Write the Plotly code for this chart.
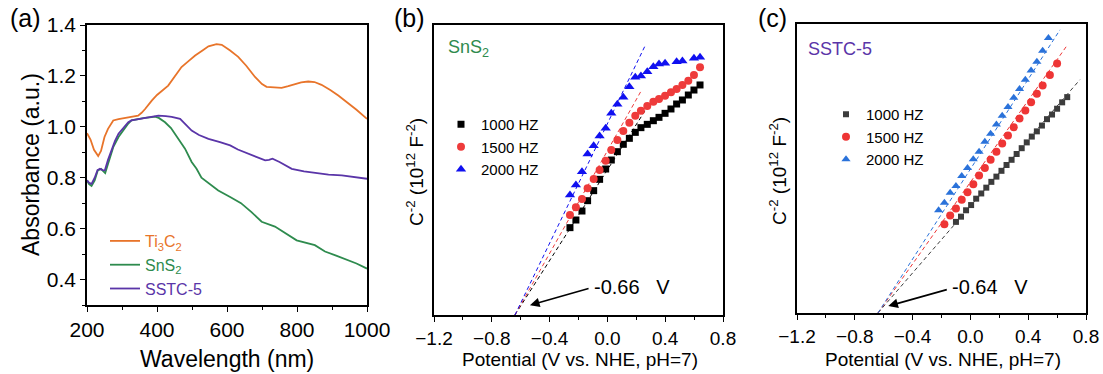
import plotly.graph_objects as go

FONT = "Arial, Liberation Sans, sans-serif"
W, H = 1103, 374

# ---------------- Panel (a): UV-vis absorbance ----------------
ti3c2_wl = [200, 210, 220, 232, 240, 250, 260, 275, 290, 310, 330, 346, 356, 366, 385, 400, 432, 450, 470, 490,
            509, 530, 547, 570, 585, 609, 632, 655, 680, 700, 713, 735, 756, 775, 794, 812, 832, 850, 870, 895,
            918, 945, 970, 1000]
ti3c2_abs = [0.975, 0.95, 0.91, 0.885, 0.905, 0.96, 0.992, 1.025, 1.03, 1.035, 1.038, 1.044, 1.055, 1.07, 1.103,
             1.125, 1.162, 1.195, 1.235, 1.258, 1.28, 1.30, 1.316, 1.325, 1.322, 1.30, 1.275, 1.24, 1.196, 1.168,
             1.157, 1.155, 1.153, 1.16, 1.169, 1.175, 1.178, 1.176, 1.165, 1.145, 1.123, 1.095, 1.067, 1.031]

sns2_wl = [200, 206, 213, 222, 231, 240, 247, 252, 258, 264, 275, 290, 305, 318, 327, 345, 365, 385, 394, 405,
           423, 440, 451, 465, 480, 499, 513, 527, 550, 575, 609, 640, 670, 699, 737, 770, 799, 851, 880, 910,
           937, 970, 1000]
sns2_abs = [0.79, 0.775, 0.768, 0.79, 0.829, 0.835, 0.825, 0.818, 0.845, 0.875, 0.92, 0.96, 0.99, 1.013, 1.025,
            1.03, 1.035, 1.038, 1.04, 1.035, 1.018, 0.995, 0.973, 0.945, 0.914, 0.862, 0.835, 0.80, 0.775, 0.75,
            0.724, 0.70, 0.665, 0.627, 0.608, 0.58, 0.554, 0.535, 0.51, 0.495, 0.482, 0.463, 0.443]

sstc_wl = [200, 206, 213, 222, 230, 237, 245, 251, 260, 270, 280, 290, 305, 318, 327, 346, 366, 385, 404, 425,
           442, 466, 480, 499, 520, 547, 580, 609, 631, 660, 690, 709, 720, 730, 750, 785, 820, 861, 890, 928,
           960, 1000]
sstc_abs = [0.79, 0.78, 0.776, 0.80, 0.83, 0.835, 0.83, 0.829, 0.87, 0.907, 0.945, 0.973, 0.995, 1.018, 1.025,
            1.03, 1.034, 1.04, 1.044, 1.042, 1.039, 1.031, 1.01, 0.985, 0.968, 0.953, 0.94, 0.927, 0.911, 0.895,
            0.878, 0.868, 0.87, 0.875, 0.862, 0.835, 0.825, 0.816, 0.812, 0.809, 0.803, 0.796]

# ---------------- Panel (b): SnS2 Mott-Schottky ----------------
b_v_1000 = [-0.259, -0.218, -0.176, -0.137, -0.095, -0.054, -0.012, 0.027, 0.069, 0.110, 0.152, 0.193, 0.232,
            0.276, 0.318, 0.357, 0.399, 0.440, 0.479, 0.519, 0.560, 0.599, 0.641]
b_c_1000 = [1.506, 1.638, 1.793, 1.971, 2.144, 2.339, 2.517, 2.672, 2.816, 2.943, 3.046, 3.149, 3.230, 3.287,
            3.350, 3.408, 3.477, 3.552, 3.638, 3.707, 3.793, 3.879, 3.966]
b_v_1500 = b_v_1000
b_c_1500 = [1.724, 1.856, 2.000, 2.184, 2.345, 2.500, 2.661, 2.845, 3.017, 3.172, 3.316, 3.437, 3.523, 3.603,
            3.678, 3.724, 3.781, 3.839, 3.897, 3.966, 4.040, 4.138, 4.270]
b_v_2000 = [-0.259, -0.218, -0.176, -0.137, -0.095, -0.054, -0.012, 0.027, 0.069, 0.110, 0.152, 0.193, 0.232,
            0.276, 0.318, 0.357, 0.399, 0.479, 0.519, 0.599, 0.641]
b_c_2000 = [2.069, 2.241, 2.471, 2.776, 2.920, 3.086, 3.218, 3.477, 3.632, 3.753, 3.937, 4.098, 4.121, 4.195,
            4.282, 4.328, 4.339, 4.368, 4.379, 4.425, 4.443]
# linear fits: (start potential, end potential), (start value, end value)
b_fit_v = {"1000": [-0.64, 0.267], "1500": [-0.64, 0.237], "2000": [-0.64, 0.260]}
b_fit_c = {"1000": [0.0, 3.547], "1500": [0.0, 3.879], "2000": [0.0, 4.638]}

# ---------------- Panel (c): SSTC-5 Mott-Schottky ----------------
c_v_1000 = [-0.10, -0.065, -0.03, 0.005, 0.04, 0.075, 0.11, 0.145, 0.18, 0.215, 0.25, 0.285, 0.32, 0.355, 0.39,
            0.425, 0.46, 0.495, 0.53, 0.565, 0.60, 0.635, 0.67]
c_c_1000 = [1.57, 1.66, 1.77, 1.86, 1.97, 2.06, 2.16, 2.26, 2.35, 2.45, 2.55, 2.64, 2.74, 2.84, 2.94, 3.04, 3.13,
            3.23, 3.34, 3.42, 3.52, 3.63, 3.72]
c_v_1500 = [-0.18, -0.14, -0.10, -0.06, -0.02, 0.02, 0.06, 0.10, 0.14, 0.18, 0.22, 0.26, 0.30, 0.34, 0.38, 0.42,
            0.46, 0.50, 0.55, 0.60]
c_c_1500 = [1.53, 1.68, 1.80, 1.95, 2.08, 2.22, 2.37, 2.50, 2.64, 2.78, 2.92, 3.06, 3.20, 3.35, 3.49, 3.63, 3.78,
            3.92, 4.10, 4.30]
c_v_2000 = [-0.22, -0.18, -0.14, -0.10, -0.06, -0.02, 0.02, 0.06, 0.10, 0.14, 0.18, 0.22, 0.26, 0.30, 0.34, 0.38,
            0.42, 0.46, 0.50, 0.54]
c_c_2000 = [1.77, 1.90, 2.07, 2.19, 2.36, 2.50, 2.65, 2.78, 2.95, 3.09, 3.25, 3.40, 3.55, 3.71, 3.86, 4.02, 4.18,
            4.33, 4.52, 4.74]
c_fit_v = {"1000": [-0.64, 0.758], "1500": [-0.64, 0.666], "2000": [-0.64, 0.62]}
c_fit_c = {"1000": [0.0, 4.02], "1500": [0.0, 4.60], "2000": [0.0, 4.88]}

freq_labels = ["1000 HZ", "1500 HZ", "2000 HZ"]
x_ticks_a = [200, 400, 600, 800, 1000]
y_ticks_a = [0.4, 0.6, 0.8, 1.0, 1.2, 1.4]
x_ticks_ms = [-1.2, -0.8, -0.4, 0.0, 0.4, 0.8]

C_ORANGE = "#E8742A"
C_GREEN = "#2E8B4E"
C_PURPLE = "#5A35A8"

fig = go.Figure()

def px_x(p):
    return p / W

def px_y(p):
    return 1 - p / H

# Panel (a) traces
for xs, ys, col, name in [
    (ti3c2_wl, ti3c2_abs, C_ORANGE, "Ti<sub>3</sub>C<sub>2</sub>"),
    (sns2_wl, sns2_abs, C_GREEN, "SnS<sub>2</sub>"),
    (sstc_wl, sstc_abs, C_PURPLE, "SSTC-5"),
]:
    fig.add_trace(go.Scatter(x=xs, y=ys, mode="lines", line=dict(color=col, width=1.8),
                             name=f"<span style='color:{col}'>{name}</span>",
                             xaxis="x", yaxis="y", legend="legend"))

# Panel (b) traces
b_cols = {"1000": "#000000", "1500": "#EE3B3B", "2000": "#1010F0"}
b_sets = [("1000", b_v_1000, b_c_1000, "square", 7), ("1500", b_v_1500, b_c_1500, "circle", 8),
          ("2000", b_v_2000, b_c_2000, "triangle-up", 9)]
for key, vs, cs, sym, sz in b_sets:
    fig.add_trace(go.Scatter(x=b_fit_v[key], y=b_fit_c[key], mode="lines",
                             line=dict(color=b_cols[key], width=1, dash="4px,3px"),
                             showlegend=False, xaxis="x2", yaxis="y2"))
for (key, vs, cs, sym, sz), lab in zip(b_sets, freq_labels):
    fig.add_trace(go.Scatter(x=vs, y=cs, mode="markers", name=lab,
                             marker=dict(symbol=sym, size=sz, color=b_cols[key], line=dict(width=0)),
                             xaxis="x2", yaxis="y2", legend="legend2"))

# Panel (c) traces
c_cols = {"1000": "#3C3C3C", "1500": "#EE3535", "2000": "#2A72DA"}
c_sets = [("1000", c_v_1000, c_c_1000, "square", 6), ("1500", c_v_1500, c_c_1500, "circle", 8),
          ("2000", c_v_2000, c_c_2000, "triangle-up", 8)]
for key, vs, cs, sym, sz in c_sets:
    fig.add_trace(go.Scatter(x=c_fit_v[key], y=c_fit_c[key], mode="lines",
                             line=dict(color=c_cols[key], width=1, dash="4px,3px"),
                             showlegend=False, xaxis="x3", yaxis="y3"))
for (key, vs, cs, sym, sz), lab in zip(c_sets, freq_labels):
    fig.add_trace(go.Scatter(x=vs, y=cs, mode="markers", name=lab,
                             marker=dict(symbol=sym, size=sz, color=c_cols[key], line=dict(width=0)),
                             xaxis="x3", yaxis="y3", legend="legend3"))

axis_common = dict(showline=True, linecolor="black", linewidth=1.6, mirror=True, showgrid=False,
                   zeroline=False, ticks="outside", tickcolor="black", ticklen=5, tickwidth=1.3,
                   automargin=False)

fig.update_layout(
    template="none",
    width=W, height=H, margin=dict(l=0, r=0, t=0, b=0, autoexpand=False),
    paper_bgcolor="white", plot_bgcolor="white",
    font=dict(family=FONT, color="black"),
    xaxis=dict(domain=[px_x(87), px_x(367)], range=[200, 1000], tickvals=x_ticks_a,
               tickfont=dict(size=21), anchor="y",
               minor=dict(dtick=100, ticks="outside", ticklen=3, tickcolor="black"), **axis_common),
    yaxis=dict(domain=[px_y(305), px_y(25)], range=[0.3, 1.4], tickvals=y_ticks_a,
               tickformat=".1f", tickfont=dict(size=21), anchor="x",
               minor=dict(dtick=0.1, ticks="outside", ticklen=3, tickcolor="black"), **axis_common),
    xaxis2=dict(domain=[px_x(434), px_x(723)], range=[-1.2, 0.8], tickvals=x_ticks_ms,
                tickformat=".1f", tickfont=dict(size=19), anchor="y2",
                minor=dict(dtick=0.2, ticks="outside", ticklen=3, tickcolor="black"), **axis_common),
    yaxis2=dict(domain=[px_y(315), px_y(25)], range=[0, 5.0], showticklabels=False, anchor="x2",
                **{**axis_common, "ticks": ""}),
    xaxis3=dict(domain=[px_x(797), px_x(1086)], range=[-1.2, 0.8], tickvals=x_ticks_ms,
                tickformat=".1f", tickfont=dict(size=19), anchor="y3",
                minor=dict(dtick=0.2, ticks="outside", ticklen=3, tickcolor="black"), **axis_common),
    yaxis3=dict(domain=[px_y(313), px_y(24)], range=[0, 4.98], showticklabels=False, anchor="x3",
                **{**axis_common, "ticks": ""}),
    legend=dict(x=px_x(105), y=px_y(224), xanchor="left", yanchor="top", bgcolor="rgba(0,0,0,0)",
                font=dict(size=16), tracegroupgap=0, itemwidth=30),
    legend2=dict(x=px_x(441), y=px_y(108), xanchor="left", yanchor="top", bgcolor="rgba(0,0,0,0)",
                 font=dict(size=15), itemwidth=30),
    legend3=dict(x=px_x(826), y=px_y(98), xanchor="left", yanchor="top", bgcolor="rgba(0,0,0,0)",
                 font=dict(size=15), itemwidth=30),
)

ann = []
# panel labels
for txt, cx in [("(a)", 25), ("(b)", 409), ("(c)", 772)]:
    ann.append(dict(text=txt, x=px_x(cx), y=px_y(18), xref="paper", yref="paper", showarrow=False,
                    font=dict(size=25), xanchor="center", yanchor="middle"))
# axis titles
ann.append(dict(text="Absorbance (a.u.)", x=px_x(31), y=px_y(165), xref="paper", yref="paper",
                showarrow=False, textangle=-90, font=dict(size=23), xanchor="center", yanchor="middle"))
ann.append(dict(text="Wavelength (nm)", x=px_x(227), y=px_y(359), xref="paper", yref="paper",
                showarrow=False, font=dict(size=23), xanchor="center", yanchor="middle"))
for cx, cy in [(415, 172), (778, 171)]:
    ann.append(dict(text="C<sup>-2</sup> (10<sup>12</sup> F<sup>-2</sup>)", x=px_x(cx), y=px_y(cy),
                    xref="paper", yref="paper", showarrow=False, textangle=-90, font=dict(size=19),
                    xanchor="center", yanchor="middle"))
for cx in [580, 943]:
    ann.append(dict(text="Potential (V vs. NHE, pH=7)", x=px_x(cx), y=px_y(359), xref="paper", yref="paper",
                    showarrow=False, font=dict(size=19), xanchor="center", yanchor="middle"))
# sample labels
ann.append(dict(text="SnS<sub>2</sub>", x=-1.12, y=4.6, xref="x2", yref="y2", showarrow=False,
                font=dict(size=18, color=C_GREEN), xanchor="left", yanchor="middle"))
ann.append(dict(text="SSTC-5", x=-1.14, y=4.55, xref="x3", yref="y3", showarrow=False,
                font=dict(size=18, color=C_PURPLE), xanchor="left", yanchor="middle"))
# flat-band potential arrows and labels
ann.append(dict(text="", x=-0.536, y=0.17, ax=-0.12, ay=0.466, xref="x2", yref="y2", axref="x2", ayref="y2",
                showarrow=True, arrowhead=2, arrowsize=1.2, arrowwidth=1.6, arrowcolor="black"))
ann.append(dict(text="-0.66\u00a0\u00a0\u00a0V", x=-0.11, y=0.49, xref="x2", yref="y2", showarrow=False,
                font=dict(size=20), xanchor="left", yanchor="middle"))
ann.append(dict(text="", x=-0.568, y=0.12, ax=-0.153, ay=0.41, xref="x3", yref="y3", axref="x3", ayref="y3",
                showarrow=True, arrowhead=2, arrowsize=1.2, arrowwidth=1.6, arrowcolor="black"))
ann.append(dict(text="-0.64\u00a0\u00a0\u00a0V", x=-0.14, y=0.45, xref="x3", yref="y3", showarrow=False,
                font=dict(size=20), xanchor="left", yanchor="middle"))
fig.update_layout(annotations=ann)

fig.write_html("out.html", config={"displayModeBar": False},
               post_script="document.body.style.margin='0';document.body.style.overflow='hidden';")
